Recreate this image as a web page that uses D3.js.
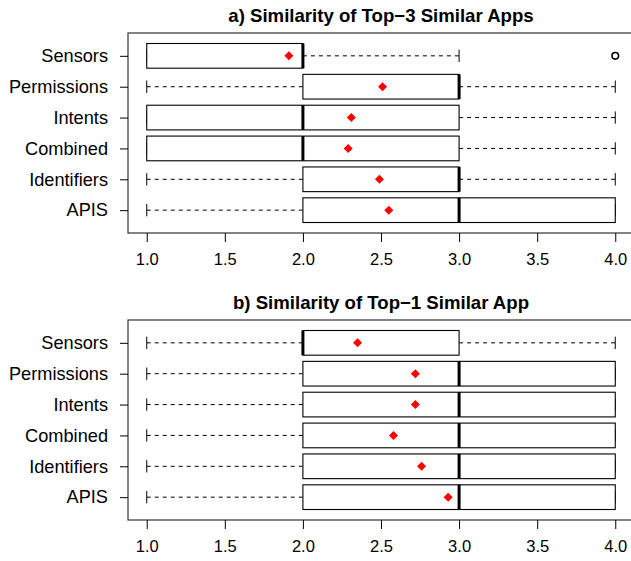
<!DOCTYPE html>
<html>
<head>
<meta charset="utf-8">
<script src="https://cdn.jsdelivr.net/npm/d3@7"></script>
<style>
  body { margin: 0; background: #fff; }
  svg { display: block; font-family: "Liberation Sans", Arial, sans-serif; }
</style>
</head>
<body>
<svg id="chart" width="631" height="561"></svg>
<script>
// categories, bottom to top (R boxplot order)
var categories = ["APIS", "Identifiers", "Combined", "Intents", "Permissions", "Sensors"];
var tickValues = [1.0, 1.5, 2.0, 2.5, 3.0, 3.5, 4.0];

// a) top-3
var titleA = "a) Similarity of Top\u22123 Similar Apps";
var lowA  = [1, 1, 1, 1, 1, 1];
var q1A   = [2, 2, 1, 1, 2, 1];
var medA  = [3, 3, 2, 2, 3, 2];
var q3A   = [4, 3, 3, 3, 3, 2];
var highA = [4, 4, 4, 4, 4, 3];
var meanA = [2.55, 2.49, 2.29, 2.31, 2.51, 1.91];
var outA  = [[], [], [], [], [], [4]];

// b) top-1
var titleB = "b) Similarity of Top\u22121 Similar App";
var lowB  = [1, 1, 1, 1, 1, 1];
var q1B   = [2, 2, 2, 2, 2, 2];
var medB  = [3, 3, 3, 3, 3, 2];
var q3B   = [4, 4, 4, 4, 4, 3];
var highB = [4, 4, 4, 4, 4, 4];
var meanB = [2.93, 2.76, 2.58, 2.72, 2.72, 2.35];
var outB  = [[], [], [], [], [], []];

var svg = d3.select("#chart");

// plot region shared by both panels
var left = 128, right = 634;
var x = d3.scaleLinear().domain([0.88, 4.12]).range([left, right]);

function drawPanel(top, title, low, q1, med, q3, high, mean, outs) {
  var bottom = top + 200;
  var y = d3.scaleLinear().domain([0.26, 6.74]).range([bottom, top]);
  var half = (y(0) - y(0.4));   // boxwex 0.8
  var staple = half / 2;

  var g = svg.append("g");

  var rows = categories.map(function(c, i) {
    return {name: c, pos: i + 1, low: low[i], q1: q1[i], med: med[i], q3: q3[i],
            high: high[i], mean: mean[i], outs: outs[i]};
  });

  var row = g.selectAll("g.row").data(rows).enter().append("g").attr("class", "row");

  // whiskers
  row.append("line")
    .attr("x1", function(d) { return x(d.low); })
    .attr("x2", function(d) { return x(d.q1); })
    .attr("y1", function(d) { return y(d.pos); })
    .attr("y2", function(d) { return y(d.pos); })
    .attr("stroke", "#000").attr("stroke-dasharray", "4,4");
  row.append("line")
    .attr("x1", function(d) { return x(d.q3); })
    .attr("x2", function(d) { return x(d.high); })
    .attr("y1", function(d) { return y(d.pos); })
    .attr("y2", function(d) { return y(d.pos); })
    .attr("stroke", "#000").attr("stroke-dasharray", "4,4");

  // staples
  ["low", "high"].forEach(function(k) {
    row.append("line")
      .attr("x1", function(d) { return x(d[k]); })
      .attr("x2", function(d) { return x(d[k]); })
      .attr("y1", function(d) { return y(d.pos) - staple; })
      .attr("y2", function(d) { return y(d.pos) + staple; })
      .attr("stroke", "#000");
  });

  // boxes
  row.append("rect")
    .attr("x", function(d) { return x(d.q1); })
    .attr("width", function(d) { return x(d.q3) - x(d.q1); })
    .attr("y", function(d) { return y(d.pos) - half; })
    .attr("height", 2 * half)
    .attr("fill", "#fff").attr("stroke", "#000").attr("stroke-width", 1.1);

  // medians
  row.append("line")
    .attr("x1", function(d) { return x(d.med); })
    .attr("x2", function(d) { return x(d.med); })
    .attr("y1", function(d) { return y(d.pos) - half; })
    .attr("y2", function(d) { return y(d.pos) + half; })
    .attr("stroke", "#000").attr("stroke-width", 3);

  // outliers
  row.each(function(d) {
    d3.select(this).selectAll("circle").data(d.outs).enter().append("circle")
      .attr("cx", function(v) { return x(v); })
      .attr("cy", y(d.pos))
      .attr("r", 3.3)
      .attr("fill", "none").attr("stroke", "#000").attr("stroke-width", 1.6);
  });

  // means (red diamonds)
  row.append("path")
    .attr("d", d3.symbol(d3.symbolDiamond2, 52))
    .attr("transform", function(d) { return "translate(" + x(d.mean) + "," + y(d.pos) + ")"; })
    .attr("fill", "#ff0000");

  // frame
  g.append("rect")
    .attr("x", left).attr("y", top)
    .attr("width", right - left).attr("height", bottom - top)
    .attr("fill", "none").attr("stroke", "#333").attr("stroke-width", 1.2);

  // x axis
  var xa = g.append("g").attr("transform", "translate(0," + bottom + ")")
    .call(d3.axisBottom(x).tickValues(tickValues).tickFormat(d3.format(".1f"))
      .tickSize(9).tickSizeOuter(0).tickPadding(11));
  xa.select(".domain").remove();
  xa.selectAll("text").attr("font-size", 16.5).attr("fill", "#000").attr("font-family", null);
  xa.selectAll("line").attr("stroke", "#000");

  // y axis
  var ya = g.append("g").attr("transform", "translate(" + left + ",0)")
    .call(d3.axisLeft(y).tickValues(rows.map(function(d) { return d.pos; }))
      .tickFormat(function(p) { return categories[p - 1]; })
      .tickSize(8).tickSizeOuter(0).tickPadding(12));
  ya.select(".domain").remove();
  ya.selectAll("text").attr("font-size", 18.2).attr("fill", "#000").attr("font-family", null);
  ya.selectAll("line").attr("stroke", "#000");

  // title
  g.append("text")
    .attr("x", (left + right) / 2).attr("y", top - 11)
    .attr("text-anchor", "middle")
    .attr("font-weight", "bold").attr("font-size", 18.6)
    .text(title);
}

drawPanel(33, titleA, lowA, q1A, medA, q3A, highA, meanA, outA);
drawPanel(320, titleB, lowB, q1B, medB, q3B, highB, meanB, outB);
</script>
</body>
</html>
